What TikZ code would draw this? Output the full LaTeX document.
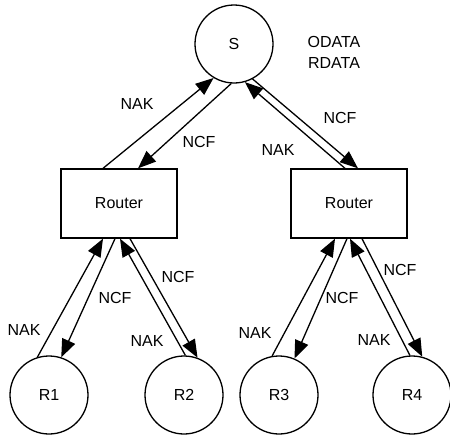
\documentclass[tikz,border=0pt]{standalone}
\usepackage{fontspec}
\setmainfont{Liberation Sans}
\usetikzlibrary{arrows.meta, positioning}
\tikzset{
  host/.style={draw, circle, line width=1.3pt, minimum size=78pt, inner sep=0pt},
  router/.style={draw, rectangle, line width=1.3pt, minimum width=116pt, minimum height=69pt},
  msg/.style={line width=1.3pt, -{Triangle[length=18pt 0 0,width=14pt 0 0]}},
  lbl/.style={inner sep=0pt}
}

\begin{document}
\begin{tikzpicture}[x=1pt,y=-1pt,font=\fontsize{16}{19}\selectfont]
\useasboundingbox (0,0) rectangle (450,434);

% Source at the top, with its data types
\node[host] (S) at (234,44) {S};
\node[lbl] (odata) at (334,42) {ODATA};
\node[lbl] (rdata) at (334,63) {RDATA};

% Routers
\node[router] (rl) at (119,203.5) {Router};
\node[router] (rr) at (349,203.5) {Router};

% Receivers
\node[host] (r1) at (49,395) {R1};
\node[host] (r2) at (184,395) {R2};
\node[host] (r3) at (279,395) {R3};
\node[host] (r4) at (412,395) {R4};

% S <-> left router
\draw[msg] ([xshift=-16pt]rl.north) -- (S.239);
\draw[msg] (S.266) -- ([xshift=19pt]rl.north);

% S <-> right router
\draw[msg] ([xshift=-4pt]rr.north) -- (S.286);
\draw[msg] (S.298) -- ([xshift=9pt]rr.north);

% left router <-> R1, R2
\draw[msg] (r1.107) -- ([xshift=-16pt]rl.south);
\draw[msg] ([xshift=-4pt]rl.south) -- (r1.72);
\draw[msg] (r2.88) -- ([xshift=1pt]rl.south);
\draw[msg] ([xshift=11pt]rl.south) -- (r2.70);

% right router <-> R3, R4
\draw[msg] (r3.100) -- ([xshift=-14pt]rr.south);
\draw[msg] ([xshift=-2pt]rr.south) -- (r3.67);
\draw[msg] (r4.93) -- ([xshift=1pt]rr.south);
\draw[msg] ([xshift=13pt]rr.south) -- (r4.75);

% Labels
\node[lbl] (nakS1) at (137,104) {NAK};
\node[lbl] (ncfS1) at (199,142) {NCF};
\node[lbl] (ncfS2) at (340,118) {NCF};
\node[lbl] (nakS2) at (278,150) {NAK};
\node[lbl] (nak1) at (24,330) {NAK};
\node[lbl] (ncf1) at (115,298) {NCF};
\node[lbl] (ncf2) at (178,277) {NCF};
\node[lbl] (nak2) at (147,341) {NAK};
\node[lbl] (nak3) at (255,333) {NAK};
\node[lbl] (ncf3) at (342,298) {NCF};
\node[lbl] (ncf4) at (400,270) {NCF};
\node[lbl] (nak4) at (374,340) {NAK};

\end{tikzpicture}
\end{document}
